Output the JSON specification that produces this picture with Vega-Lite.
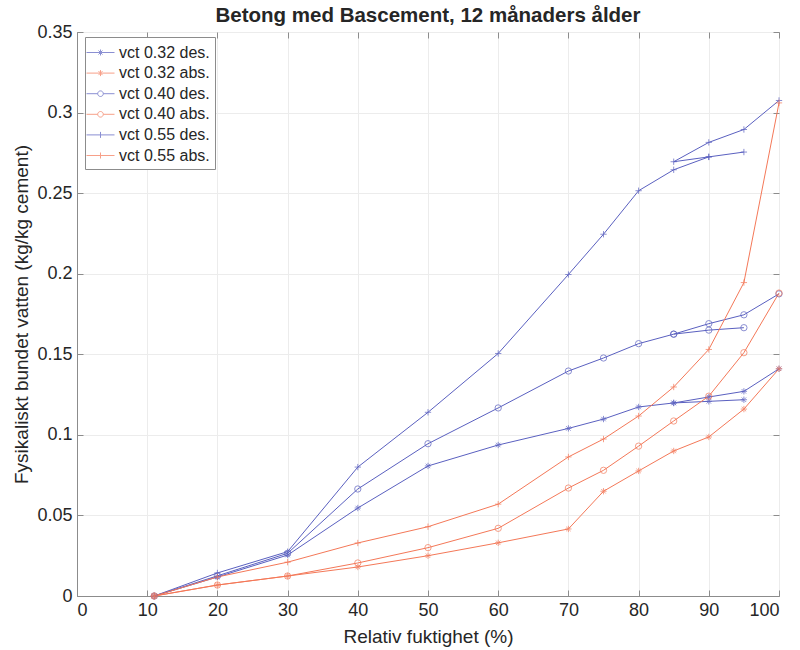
{
  "$schema": "https://vega.github.io/schema/vega-lite/v6.json",
  "width": 702,
  "height": 564,
  "autosize": {"type": "none"},
  "padding": {"left": 77, "top": 32, "right": 21, "bottom": 54},
  "background": "white",
  "title": {"text": "Betong med Bascement, 12 månaders ålder", "fontSize": 20.5, "font": "Liberation Sans", "fontWeight": "bold", "color": "#262626", "anchor": "middle", "offset": -3},
  "config": {
    "view": {"stroke": "#8c8c8c", "strokeWidth": 1},
    "axis": {"labelFont": "Liberation Sans", "titleFont": "Liberation Sans", "labelFontSize": 18, "titleFontSize": 19, "labelColor": "#262626", "titleColor": "#262626", "titleFontWeight": "normal", "domainColor": "#8c8c8c", "tickColor": "#8c8c8c", "tickSize": -6, "gridColor": "#ececec", "labelPadding": 11}
  },
  "datasets": {
    "d": [
      {"s": "vct 0.32 des.", "g": "32dA", "o": 1, "x": 11, "y": 0},
      {"s": "vct 0.32 des.", "g": "32dA", "o": 2, "x": 20, "y": 0.0118},
      {"s": "vct 0.32 des.", "g": "32dA", "o": 3, "x": 30, "y": 0.0254},
      {"s": "vct 0.32 des.", "g": "32dA", "o": 4, "x": 40, "y": 0.0546},
      {"s": "vct 0.32 des.", "g": "32dA", "o": 5, "x": 50, "y": 0.0807},
      {"s": "vct 0.32 des.", "g": "32dA", "o": 6, "x": 60, "y": 0.0937},
      {"s": "vct 0.32 des.", "g": "32dA", "o": 7, "x": 70, "y": 0.104},
      {"s": "vct 0.32 des.", "g": "32dA", "o": 8, "x": 75, "y": 0.1098},
      {"s": "vct 0.32 des.", "g": "32dA", "o": 9, "x": 80, "y": 0.1173},
      {"s": "vct 0.32 des.", "g": "32dA", "o": 10, "x": 85, "y": 0.1198},
      {"s": "vct 0.32 des.", "g": "32dA", "o": 11, "x": 90, "y": 0.1208},
      {"s": "vct 0.32 des.", "g": "32dA", "o": 12, "x": 95, "y": 0.1218},
      {"s": "vct 0.32 des.", "g": "32dB", "o": 1, "x": 85, "y": 0.1198},
      {"s": "vct 0.32 des.", "g": "32dB", "o": 2, "x": 90, "y": 0.1235},
      {"s": "vct 0.32 des.", "g": "32dB", "o": 3, "x": 95, "y": 0.127},
      {"s": "vct 0.32 des.", "g": "32dB", "o": 4, "x": 100, "y": 0.141},

      {"s": "vct 0.40 des.", "g": "40dA", "o": 1, "x": 11, "y": 0},
      {"s": "vct 0.40 des.", "g": "40dA", "o": 2, "x": 20, "y": 0.0125},
      {"s": "vct 0.40 des.", "g": "40dA", "o": 3, "x": 30, "y": 0.0265},
      {"s": "vct 0.40 des.", "g": "40dA", "o": 4, "x": 40, "y": 0.0664},
      {"s": "vct 0.40 des.", "g": "40dA", "o": 5, "x": 50, "y": 0.0945},
      {"s": "vct 0.40 des.", "g": "40dA", "o": 6, "x": 60, "y": 0.1167},
      {"s": "vct 0.40 des.", "g": "40dA", "o": 7, "x": 70, "y": 0.1396},
      {"s": "vct 0.40 des.", "g": "40dA", "o": 8, "x": 75, "y": 0.1477},
      {"s": "vct 0.40 des.", "g": "40dA", "o": 9, "x": 80, "y": 0.1566},
      {"s": "vct 0.40 des.", "g": "40dA", "o": 10, "x": 85, "y": 0.1625},
      {"s": "vct 0.40 des.", "g": "40dA", "o": 11, "x": 90, "y": 0.165},
      {"s": "vct 0.40 des.", "g": "40dA", "o": 12, "x": 95, "y": 0.1665},
      {"s": "vct 0.40 des.", "g": "40dB", "o": 1, "x": 85, "y": 0.1625},
      {"s": "vct 0.40 des.", "g": "40dB", "o": 2, "x": 90, "y": 0.169},
      {"s": "vct 0.40 des.", "g": "40dB", "o": 3, "x": 95, "y": 0.1745},
      {"s": "vct 0.40 des.", "g": "40dB", "o": 4, "x": 100, "y": 0.1875},

      {"s": "vct 0.55 des.", "g": "55dA", "o": 1, "x": 11, "y": 0},
      {"s": "vct 0.55 des.", "g": "55dA", "o": 2, "x": 20, "y": 0.0143},
      {"s": "vct 0.55 des.", "g": "55dA", "o": 3, "x": 30, "y": 0.0275},
      {"s": "vct 0.55 des.", "g": "55dA", "o": 4, "x": 40, "y": 0.08},
      {"s": "vct 0.55 des.", "g": "55dA", "o": 5, "x": 50, "y": 0.114},
      {"s": "vct 0.55 des.", "g": "55dA", "o": 6, "x": 60, "y": 0.1505},
      {"s": "vct 0.55 des.", "g": "55dA", "o": 7, "x": 70, "y": 0.1995},
      {"s": "vct 0.55 des.", "g": "55dA", "o": 8, "x": 75, "y": 0.2245},
      {"s": "vct 0.55 des.", "g": "55dA", "o": 9, "x": 80, "y": 0.2515},
      {"s": "vct 0.55 des.", "g": "55dA", "o": 10, "x": 85, "y": 0.2645},
      {"s": "vct 0.55 des.", "g": "55dA", "o": 11, "x": 90, "y": 0.2725},
      {"s": "vct 0.55 des.", "g": "55dA", "o": 12, "x": 95, "y": 0.2755},
      {"s": "vct 0.55 des.", "g": "55dB", "o": 1, "x": 90, "y": 0.2725},
      {"s": "vct 0.55 des.", "g": "55dB", "o": 2, "x": 85, "y": 0.2695},
      {"s": "vct 0.55 des.", "g": "55dB", "o": 3, "x": 90, "y": 0.2815},
      {"s": "vct 0.55 des.", "g": "55dB", "o": 4, "x": 95, "y": 0.2895},
      {"s": "vct 0.55 des.", "g": "55dB", "o": 5, "x": 100, "y": 0.3075},

      {"s": "vct 0.32 abs.", "g": "32a", "o": 1, "x": 11, "y": 0},
      {"s": "vct 0.32 abs.", "g": "32a", "o": 2, "x": 20, "y": 0.0068},
      {"s": "vct 0.32 abs.", "g": "32a", "o": 3, "x": 30, "y": 0.0124},
      {"s": "vct 0.32 abs.", "g": "32a", "o": 4, "x": 40, "y": 0.018},
      {"s": "vct 0.32 abs.", "g": "32a", "o": 5, "x": 50, "y": 0.025},
      {"s": "vct 0.32 abs.", "g": "32a", "o": 6, "x": 60, "y": 0.033},
      {"s": "vct 0.32 abs.", "g": "32a", "o": 7, "x": 70, "y": 0.0416},
      {"s": "vct 0.32 abs.", "g": "32a", "o": 8, "x": 75, "y": 0.065},
      {"s": "vct 0.32 abs.", "g": "32a", "o": 9, "x": 80, "y": 0.0776},
      {"s": "vct 0.32 abs.", "g": "32a", "o": 10, "x": 85, "y": 0.09},
      {"s": "vct 0.32 abs.", "g": "32a", "o": 11, "x": 90, "y": 0.0987},
      {"s": "vct 0.32 abs.", "g": "32a", "o": 12, "x": 95, "y": 0.116},
      {"s": "vct 0.32 abs.", "g": "32a", "o": 13, "x": 100, "y": 0.141},

      {"s": "vct 0.40 abs.", "g": "40a", "o": 1, "x": 11, "y": 0},
      {"s": "vct 0.40 abs.", "g": "40a", "o": 2, "x": 20, "y": 0.0068},
      {"s": "vct 0.40 abs.", "g": "40a", "o": 3, "x": 30, "y": 0.0124},
      {"s": "vct 0.40 abs.", "g": "40a", "o": 4, "x": 40, "y": 0.0205},
      {"s": "vct 0.40 abs.", "g": "40a", "o": 5, "x": 50, "y": 0.03},
      {"s": "vct 0.40 abs.", "g": "40a", "o": 6, "x": 60, "y": 0.042},
      {"s": "vct 0.40 abs.", "g": "40a", "o": 7, "x": 70, "y": 0.067},
      {"s": "vct 0.40 abs.", "g": "40a", "o": 8, "x": 75, "y": 0.078},
      {"s": "vct 0.40 abs.", "g": "40a", "o": 9, "x": 80, "y": 0.093},
      {"s": "vct 0.40 abs.", "g": "40a", "o": 10, "x": 85, "y": 0.1086},
      {"s": "vct 0.40 abs.", "g": "40a", "o": 11, "x": 90, "y": 0.124},
      {"s": "vct 0.40 abs.", "g": "40a", "o": 12, "x": 95, "y": 0.151},
      {"s": "vct 0.40 abs.", "g": "40a", "o": 13, "x": 100, "y": 0.188},

      {"s": "vct 0.55 abs.", "g": "55a", "o": 1, "x": 11, "y": 0},
      {"s": "vct 0.55 abs.", "g": "55a", "o": 2, "x": 20, "y": 0.0118},
      {"s": "vct 0.55 abs.", "g": "55a", "o": 3, "x": 30, "y": 0.021},
      {"s": "vct 0.55 abs.", "g": "55a", "o": 4, "x": 40, "y": 0.0329},
      {"s": "vct 0.55 abs.", "g": "55a", "o": 5, "x": 50, "y": 0.043},
      {"s": "vct 0.55 abs.", "g": "55a", "o": 6, "x": 60, "y": 0.057},
      {"s": "vct 0.55 abs.", "g": "55a", "o": 7, "x": 70, "y": 0.0863},
      {"s": "vct 0.55 abs.", "g": "55a", "o": 8, "x": 75, "y": 0.0974},
      {"s": "vct 0.55 abs.", "g": "55a", "o": 9, "x": 80, "y": 0.1117},
      {"s": "vct 0.55 abs.", "g": "55a", "o": 10, "x": 85, "y": 0.1297},
      {"s": "vct 0.55 abs.", "g": "55a", "o": 11, "x": 90, "y": 0.153},
      {"s": "vct 0.55 abs.", "g": "55a", "o": 12, "x": 95, "y": 0.1945},
      {"s": "vct 0.55 abs.", "g": "55a", "o": 13, "x": 100, "y": 0.306}
    ]
  },
  "data": {"name": "d"},
  "layer": [
    {
      "mark": {"type": "line", "strokeWidth": 1},
      "encoding": {
        "x": {"field": "x", "type": "quantitative", "scale": {"domain": [0, 100], "nice": false}, "axis": {"title": "Relativ fuktighet (%)", "values": [0, 10, 20, 30, 40, 50, 60, 70, 80, 90, 100], "grid": true, "titlePadding": 8}},
        "y": {"field": "y", "type": "quantitative", "scale": {"domain": [0, 0.35], "nice": false}, "axis": {"title": "Fysikaliskt bundet vatten (kg/kg cement)", "values": [0, 0.05, 0.1, 0.15, 0.2, 0.25, 0.3, 0.35], "format": ".2~f", "grid": true, "titlePadding": 5}},
        "color": {"field": "s", "type": "nominal", "scale": {"domain": ["vct 0.32 des.", "vct 0.32 abs.", "vct 0.40 des.", "vct 0.40 abs.", "vct 0.55 des.", "vct 0.55 abs."], "range": ["#5a60c0", "#f47858", "#5a60c0", "#f47858", "#5a60c0", "#f47858"]}, "legend": null},
        "detail": {"field": "g", "type": "nominal"},
        "order": {"field": "o", "type": "quantitative"}
      }
    },
    {
      "mark": {"type": "point", "filled": false, "strokeWidth": 1, "size": 40},
      "encoding": {
        "x": {"field": "x", "type": "quantitative", "axis": null},
        "y": {"field": "y", "type": "quantitative", "axis": null},
        "color": {"field": "s", "type": "nominal", "scale": {"domain": ["vct 0.32 des.", "vct 0.32 abs.", "vct 0.40 des.", "vct 0.40 abs.", "vct 0.55 des.", "vct 0.55 abs."], "range": ["#5a60c0", "#f47858", "#5a60c0", "#f47858", "#5a60c0", "#f47858"]}, "legend": null},
        "shape": {"field": "s", "type": "nominal", "scale": {"domain": ["vct 0.32 des.", "vct 0.32 abs.", "vct 0.40 des.", "vct 0.40 abs.", "vct 0.55 des.", "vct 0.55 abs."], "range": ["M-1,0L1,0M0,-1L0,1M-0.7,-0.7L0.7,0.7M-0.7,0.7L0.7,-0.7", "M-1,0L1,0M0,-1L0,1M-0.7,-0.7L0.7,0.7M-0.7,0.7L0.7,-0.7", "circle", "circle", "M-1,0L1,0M0,-1L0,1", "M-1,0L1,0M0,-1L0,1"]}, "legend": null}
      }
    },
    {
      "transform": [{"filter": "datum.x < -1000"}],
      "mark": {"type": "point", "filled": false, "strokeWidth": 1},
      "encoding": {
        "x": {"field": "x", "type": "quantitative", "axis": {"orient": "top", "labels": false, "title": null, "grid": false, "domain": false, "labelPadding": 0, "values": [0, 10, 20, 30, 40, 50, 60, 70, 80, 90, 100]}},
        "y": {"field": "y", "type": "quantitative", "axis": {"orient": "right", "labels": false, "title": null, "grid": false, "domain": false, "labelPadding": 0, "values": [0, 0.05, 0.1, 0.15, 0.2, 0.25, 0.3, 0.35]}},
        "color": {"field": "s", "type": "nominal", "scale": {"domain": ["vct 0.32 des.", "vct 0.32 abs.", "vct 0.40 des.", "vct 0.40 abs.", "vct 0.55 des.", "vct 0.55 abs."], "range": ["#5a60c0", "#f47858", "#5a60c0", "#f47858", "#5a60c0", "#f47858"]}, "legend": {"title": null, "orient": "none", "legendX": 8, "legendY": 5, "strokeColor": "#8c8c8c", "fillColor": "white", "padding": 5, "symbolSize": 400, "symbolStrokeWidth": 1, "labelFont": "Liberation Sans", "labelFontSize": 16, "labelColor": "#262626", "rowPadding": 1.6, "labelOffset": 8}},
        "shape": {"field": "s", "type": "nominal", "scale": {"domain": ["vct 0.32 des.", "vct 0.32 abs.", "vct 0.40 des.", "vct 0.40 abs.", "vct 0.55 des.", "vct 0.55 abs."], "range": ["M-1.4,0L1.4,0M0,-0.3L0,0.3M-0.2,-0.2L0.2,0.2M-0.2,0.2L0.2,-0.2", "M-1.4,0L1.4,0M0,-0.3L0,0.3M-0.2,-0.2L0.2,0.2M-0.2,0.2L0.2,-0.2", "M-1.4,0L-0.28,0M0.28,0L1.4,0M0.28,0A0.28,0.28,0,1,1,-0.28,0A0.28,0.28,0,1,1,0.28,0", "M-1.4,0L-0.28,0M0.28,0L1.4,0M0.28,0A0.28,0.28,0,1,1,-0.28,0A0.28,0.28,0,1,1,0.28,0", "M-1.4,0L1.4,0M0,-0.3L0,0.3", "M-1.4,0L1.4,0M0,-0.3L0,0.3"]}, "legend": {"title": null, "orient": "none", "legendX": 8, "legendY": 5, "strokeColor": "#8c8c8c", "fillColor": "white", "padding": 5, "symbolSize": 400, "symbolStrokeWidth": 1, "labelFont": "Liberation Sans", "labelFontSize": 16, "labelColor": "#262626", "rowPadding": 1.6, "labelOffset": 8}}
      }
    }
  ],
  "resolve": {"scale": {"shape": "independent", "color": "independent"}, "axis": {"x": "independent", "y": "independent"}}
}
